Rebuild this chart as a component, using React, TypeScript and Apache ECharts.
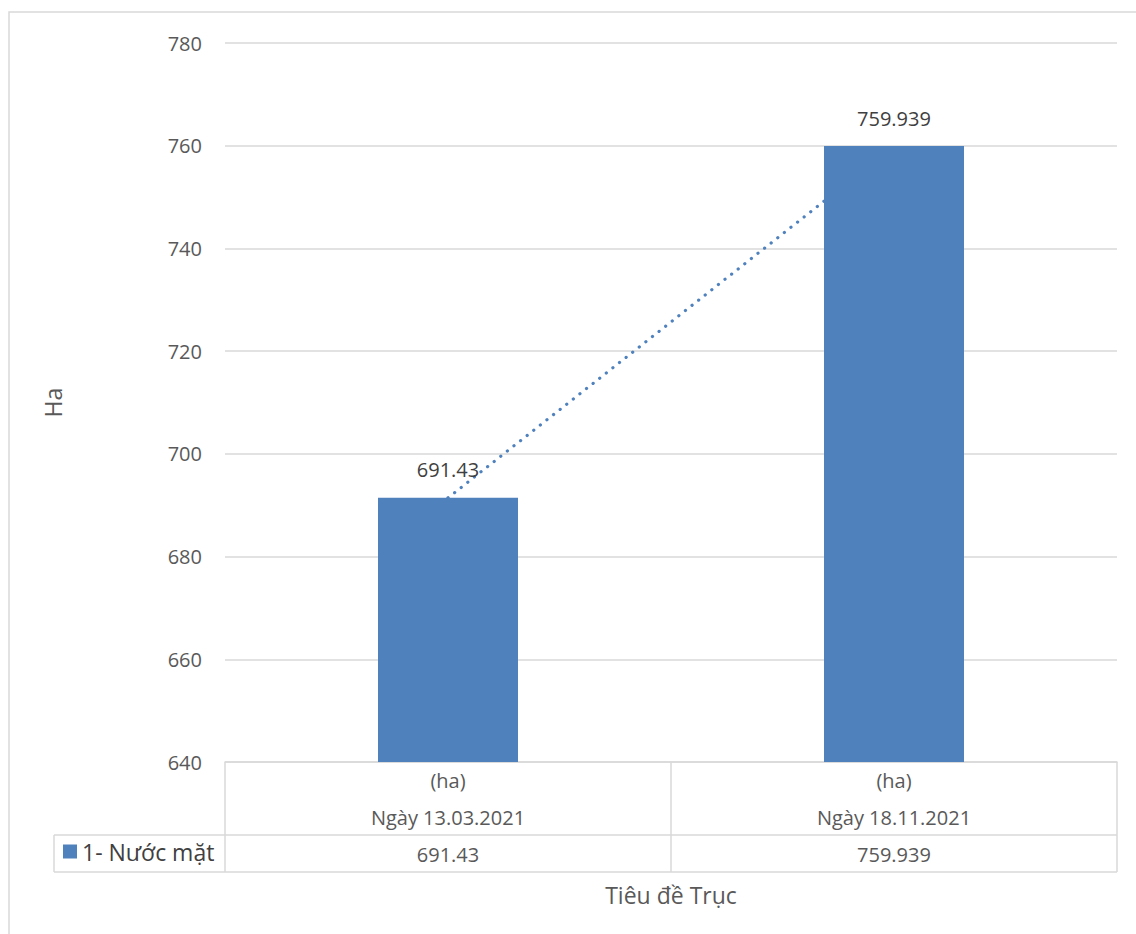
import React, { useEffect, useRef } from "react";
import * as echarts from "echarts";

// Surface water area at two survey dates
const categories = ["Ngày 13.03.2021", "Ngày 18.11.2021"];
const unitRow = ["(ha)", "(ha)"];
const seriesName = "1- Nước mặt";
const values = [691.43, 759.939];
const yTicks = { min: 640, max: 780, interval: 20 };

const FONT = "'Open Sans', 'Noto Sans', sans-serif";
const BLUE = "#4F81BD";
const GRID = "#D9D9D9";
const TEXT = "#595959";

export default function App() {
  const ref = useRef<HTMLDivElement>(null);

  useEffect(() => {
    document.body.style.margin = "0";
    if (!ref.current) return;
    const chart = echarts.init(ref.current, undefined, { renderer: "svg" });

    const left = 225;
    const right = 1117;
    const top = 43;
    const bottom = 762;
    const mid = (left + right) / 2;
    const rowY = 835;
    const tableBottom = 872;
    const legendLeft = 54;

    const line = (x1: number, y1: number, x2: number, y2: number) => ({
      type: "line",
      shape: { x1, y1, x2, y2 },
      style: { stroke: GRID, lineWidth: 1.5 },
      silent: true,
      z: 10,
    });

    chart.setOption({
      animation: false,
      backgroundColor: "#ffffff",
      textStyle: { fontFamily: FONT },
      grid: { left, right: 1136 - right, top, bottom: 934 - bottom, containLabel: false },
      legend: {
        data: [seriesName],
        left: 58,
        top: 838,
        padding: [2, 5, 2, 5],
        itemWidth: 14,
        itemHeight: 14,
        icon: "rect",
        textStyle: { fontSize: 23, color: "#404040", fontFamily: FONT },
        itemGap: 5,
        selectedMode: false,
      },
      xAxis: {
        type: "category",
        data: categories,
        name: "Tiêu đề Trục",
        nameLocation: "middle",
        nameGap: 121,
        nameTextStyle: { fontSize: 23, color: TEXT, fontFamily: FONT },
        axisLine: { show: true, lineStyle: { color: GRID, width: 1.5 } },
        axisTick: { show: false },
        axisLabel: {
          margin: 0,
          fontSize: 20,
          lineHeight: 37,
          color: TEXT,
          fontFamily: FONT,
          formatter: (v: string, i: number) => `${unitRow[i]}\n${v}\n${values[i]}`,
        },
      },
      yAxis: {
        type: "value",
        min: yTicks.min,
        max: yTicks.max,
        interval: yTicks.interval,
        name: "Ha",
        nameLocation: "middle",
        nameGap: 161,
        nameTextStyle: { fontSize: 23, color: TEXT, fontFamily: FONT },
        axisLine: { show: false },
        axisTick: { show: false },
        axisLabel: { fontSize: 20, color: TEXT, margin: 23, fontFamily: FONT },
        splitLine: { lineStyle: { color: GRID, width: 1.5 } },
      },
      series: [
        {
          name: "Trend",
          type: "line",
          data: values,
          symbol: "none",
          z: 1,
          silent: true,
          lineStyle: { color: BLUE, width: 3.2, type: [0.1, 8.3], cap: "round" },
        },
        {
          name: seriesName,
          type: "bar",
          data: values,
          barWidth: 140,
          z: 3,
          itemStyle: { color: BLUE },
          label: {
            show: true,
            position: "top",
            distance: 18,
            fontSize: 20,
            color: "#404040",
            fontFamily: FONT,
          },
        },
      ],
      graphic: [
        {
          type: "rect",
          shape: { x: 9, y: 12, width: 1300, height: 1100 },
          style: { fill: "none", stroke: GRID, lineWidth: 1.5 },
          silent: true,
          z: 0,
        },
        line(left, bottom, left, tableBottom),
        line(mid, bottom, mid, tableBottom),
        line(right, bottom, right, tableBottom),
        line(legendLeft, rowY, right, rowY),
        line(legendLeft, tableBottom, right, tableBottom),
        line(legendLeft, rowY, legendLeft, tableBottom),
      ],
    });

    return () => chart.dispose();
  }, []);

  return <div ref={ref} style={{ width: 1136, height: 934 }} />;
}
